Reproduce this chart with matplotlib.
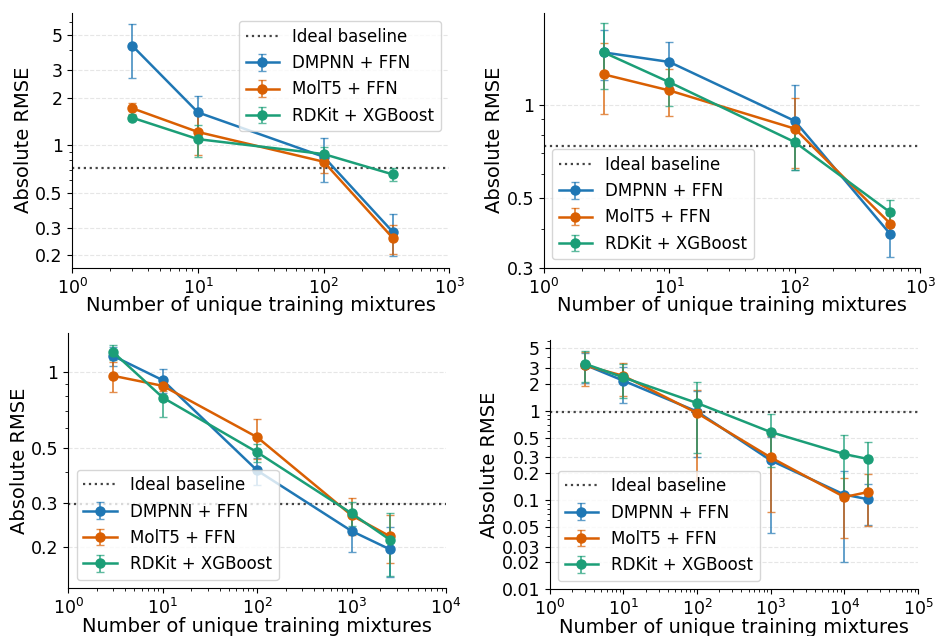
"""
learning curves: absolute RMSE vs number of training mixtures

"""
import numpy as np
import matplotlib
matplotlib.use('Agg')
import matplotlib.pyplot as plt
from matplotlib.ticker import FixedLocator, FuncFormatter, NullFormatter

# panel a
n_train_a = [3, 10, 100, 354]
dmpnn_a = [4.26, 1.61, 0.843, 0.282]
dmpnn_a_err = [1.6, 0.44, 0.26, 0.085]
molt5_a = [1.71, 1.21, 0.784, 0.258]
molt5_a_err = [0.13, 0.35, 0.12, 0.055]
rdkit_a = [1.49, 1.09, 0.877, 0.652]
rdkit_a_err = [0.05, 0.25, 0.1, 0.06]
baseline_a = 0.711

# panel b
n_train_b = [3, 10, 100, 577]
dmpnn_b = [1.47, 1.37, 0.886, 0.384]
dmpnn_b_err = [0.27, 0.22, 0.27, 0.06]
molt5_b = [1.25, 1.11, 0.837, 0.415]
molt5_b_err = [0.32, 0.19, 0.21, 0.03]
rdkit_b = [1.47, 1.18, 0.758, 0.451]
rdkit_b_err = [0.35, 0.19, 0.14, 0.045]
baseline_b = 0.735

# panel c
n_train_c = [3, 10, 100, 1000, 2550]
dmpnn_c = [1.16, 0.929, 0.405, 0.232, 0.196]
dmpnn_c_err = [0.1, 0.1, 0.05, 0.04, 0.044]
molt5_c = [0.967, 0.882, 0.55, 0.268, 0.221]
molt5_c_err = [0.13, 0.04, 0.1, 0.045, 0.048]
rdkit_c = [1.20, 0.792, 0.479, 0.273, 0.214]
rdkit_c_err = [0.08, 0.13, 0.04, 0.03, 0.06]
baseline_c = 0.298

# panel d
n_train_d = [3, 10, 100, 1000, 10000, 21000]
dmpnn_d = [3.27, 2.17, 0.98, 0.278, 0.115, 0.102]
dmpnn_d_err = [1.2, 0.95, 0.68, 0.235, 0.095, 0.049]
molt5_d = [3.22, 2.46, 0.942, 0.30, 0.108, 0.123]
molt5_d_err = [1.35, 1.0, 0.78, 0.227, 0.07, 0.072]
rdkit_d = [3.36, 2.36, 1.22, 0.577, 0.327, 0.288]
rdkit_d_err = [1.25, 0.97, 0.88, 0.34, 0.21, 0.16]
baseline_d = 0.98

model_names = ['DMPNN + FFN', 'MolT5 + FFN', 'RDKit + XGBoost']
model_colors = ['#1f77b4', '#d95f02', '#1b9e77']
y_ticks = [0.01, 0.02, 0.03, 0.05, 0.1, 0.2, 0.3, 0.5, 1, 2, 3, 5]

panels = [
    dict(x=n_train_a, ys=[dmpnn_a, molt5_a, rdkit_a],
         errs=[dmpnn_a_err, molt5_a_err, rdkit_a_err], base=baseline_a,
         xmax=1e3, ylim=(0.167, 6.9), loc='upper right',
         rect=[0.0773, 0.5791, 0.4028, 0.4009]),
    dict(x=n_train_b, ys=[dmpnn_b, molt5_b, rdkit_b],
         errs=[dmpnn_b_err, molt5_b_err, rdkit_b_err], base=baseline_b,
         xmax=1e3, ylim=(0.3, 1.97), loc='lower left',
         rect=[0.5809, 0.5791, 0.4024, 0.4009]),
    dict(x=n_train_c, ys=[dmpnn_c, molt5_c, rdkit_c],
         errs=[dmpnn_c_err, molt5_c_err, rdkit_c_err], base=baseline_c,
         xmax=1e4, ylim=(0.137, 1.43), loc='lower left',
         rect=[0.0730, 0.0750, 0.4035, 0.4009]),
    dict(x=n_train_d, ys=[dmpnn_d, molt5_d, rdkit_d],
         errs=[dmpnn_d_err, molt5_d_err, rdkit_d_err], base=baseline_d,
         xmax=1e5, ylim=(0.01, 6.2), loc='lower left',
         rect=[0.5873, 0.0734, 0.3935, 0.3920]),
]


def tick_fmt(v, pos):
    return '%g' % v


fig = plt.figure(figsize=(9.36, 6.36), dpi=100)

for p in panels:
    ax = fig.add_axes(p['rect'])
    ax.axhline(p['base'], ls=':', color='#444444', lw=1.6, label='Ideal baseline')
    for y, err, name, c in zip(p['ys'], p['errs'], model_names, model_colors):
        line, caps, bars = ax.errorbar(p['x'], y, yerr=err, fmt='-o', color=c,
                                       lw=1.8, ms=6.5, capsize=3, elinewidth=1.4,
                                       label=name)
        for cap in caps:
            cap.set_alpha(0.7)
        for bar in bars:
            bar.set_alpha(0.7)

    ax.set_xscale('log')
    ax.set_yscale('log')
    ax.set_xlim(1, p['xmax'])
    ax.set_ylim(*p['ylim'])
    ax.yaxis.set_major_locator(FixedLocator(y_ticks))
    ax.yaxis.set_major_formatter(FuncFormatter(tick_fmt))
    ax.yaxis.set_minor_formatter(NullFormatter())
    ax.grid(True, axis='y', which='major', ls='--', color='#e6e6e6', lw=0.8)
    ax.set_axisbelow(True)
    ax.spines['top'].set_visible(False)
    ax.spines['right'].set_visible(False)
    ax.tick_params(labelsize=12.5)
    ax.set_xlabel('Number of unique training mixtures', fontsize=14, labelpad=-1)
    ax.set_ylabel('Absolute RMSE', fontsize=14, labelpad=1.5)
    ax.legend(loc=p['loc'], fontsize=12)

fig.savefig('out.png', dpi=100)
